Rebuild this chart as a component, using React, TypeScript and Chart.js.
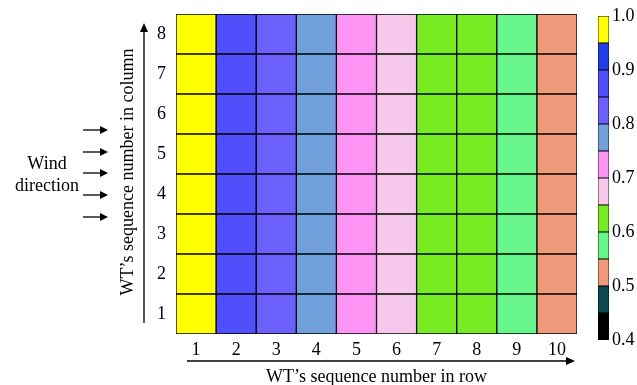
import React, { useEffect, useRef } from "react";
import { Chart, registerables } from "chart.js";

Chart.register(...registerables);

const columnLabels = ["1", "2", "3", "4", "5", "6", "7", "8", "9", "10"];
const rowLabels = ["1", "2", "3", "4", "5", "6", "7", "8"];
// normalized power of each WT, rows 1..8 (bottom to top), columns 1..10
const rowValues: number[][] = [
  [0.98, 0.87, 0.82, 0.78, 0.72, 0.68, 0.62, 0.61, 0.57, 0.52],
  [0.98, 0.87, 0.82, 0.78, 0.72, 0.68, 0.62, 0.61, 0.57, 0.52],
  [0.98, 0.87, 0.82, 0.78, 0.72, 0.68, 0.62, 0.61, 0.57, 0.52],
  [0.98, 0.87, 0.82, 0.78, 0.72, 0.68, 0.62, 0.61, 0.57, 0.52],
  [0.98, 0.87, 0.82, 0.78, 0.72, 0.68, 0.62, 0.61, 0.57, 0.52],
  [0.98, 0.87, 0.82, 0.78, 0.72, 0.68, 0.62, 0.61, 0.57, 0.52],
  [0.98, 0.87, 0.82, 0.78, 0.72, 0.68, 0.62, 0.61, 0.57, 0.52],
  [0.98, 0.87, 0.82, 0.78, 0.72, 0.68, 0.62, 0.61, 0.57, 0.52],
];
const colorBinStarts = [0.4, 0.45, 0.5, 0.55, 0.6, 0.65, 0.7, 0.75, 0.8, 0.85, 0.9, 0.95];
const colorBinColors = [
  "#000000", "#0b4a52", "#ee9a7b", "#66f68a", "#78ec22", "#f8c8ec",
  "#fb94f3", "#72a0dc", "#6b61fa", "#4f4ffb", "#1f3ee6", "#ffff00",
];
const colorbarTicks = [0.4, 0.5, 0.6, 0.7, 0.8, 0.9, 1.0];

const FONT = "'Liberation Serif', 'Times New Roman', serif";
const FS = 18;

function colorFor(v: number): string {
  let idx = 0;
  for (let i = 0; i < colorBinStarts.length; i++) {
    if (v >= colorBinStarts[i] - 1e-9) idx = i;
  }
  return colorBinColors[idx];
}

function drawArrow(ctx: CanvasRenderingContext2D, x1: number, y1: number, x2: number, y2: number, head = 9) {
  const ang = Math.atan2(y2 - y1, x2 - x1);
  ctx.beginPath();
  ctx.moveTo(x1, y1);
  ctx.lineTo(x2 - Math.cos(ang) * head * 0.8, y2 - Math.sin(ang) * head * 0.8);
  ctx.stroke();
  ctx.beginPath();
  ctx.moveTo(x2, y2);
  ctx.lineTo(x2 - head * Math.cos(ang) + 4 * Math.sin(ang), y2 - head * Math.sin(ang) - 4 * Math.cos(ang));
  ctx.lineTo(x2 - head * Math.cos(ang) - 4 * Math.sin(ang), y2 - head * Math.sin(ang) + 4 * Math.cos(ang));
  ctx.closePath();
  ctx.fill();
}

const annotationPlugin = {
  id: "annotations",
  afterDraw(chart: any) {
    const ctx: CanvasRenderingContext2D = chart.ctx;
    const a = chart.chartArea;
    ctx.save();
    ctx.strokeStyle = "#000";
    ctx.fillStyle = "#000";
    ctx.lineWidth = 1.3;
    // x arrow
    const xy = a.bottom + 27;
    drawArrow(ctx, a.left + 11, xy, a.right - 2, xy);
    ctx.font = `${FS}px ${FONT}`;
    ctx.textAlign = "center";
    ctx.textBaseline = "middle";
    ctx.fillText("WT\u2019s sequence number in row", (a.left + a.right) / 2, a.bottom + 43);
    // y arrow
    const yx = a.left - 32;
    drawArrow(ctx, yx, a.bottom - 11, yx, a.top + 9);
    ctx.save();
    ctx.translate(a.left - 48, (a.top + a.bottom) / 2 - 2);
    ctx.rotate(-Math.PI / 2);
    ctx.fillText("WT\u2019s sequence number in column", 0, 0);
    ctx.restore();
    // wind direction
    ctx.fillText("Wind", 47, 164);
    ctx.fillText("direction", 47, 186);
    const ys = [130, 152, 173, 195, 217];
    for (const y of ys) drawArrow(ctx, 83, y, 108, y, 8);
    ctx.restore();
  },
};

export default function App() {
  const mainRef = useRef<HTMLCanvasElement>(null);
  const cbRef = useRef<HTMLCanvasElement>(null);

  useEffect(() => {
    const datasets = rowLabels.map((_, r) => ({
      label: "row " + rowLabels[r],
      data: columnLabels.map(() => [r, r + 1]),
      backgroundColor: rowValues[r].map(colorFor),
      borderColor: "#000",
      borderWidth: 1,
      borderSkipped: false,
      grouped: false,
      barPercentage: 1,
      categoryPercentage: 1,
    }));
    const main = new Chart(mainRef.current!, {
      type: "bar",
      data: { labels: columnLabels, datasets: datasets as any },
      options: {
        animation: false,
        responsive: false,
        maintainAspectRatio: false,
        layout: { padding: { top: 14, right: 60, left: 0, bottom: 0 } },
        plugins: { legend: { display: false }, tooltip: { enabled: false } },
        scales: {
          x: {
            grid: { display: false, drawTicks: false },
            border: { display: false },
            ticks: { color: "#000", font: { family: FONT, size: FS }, padding: 5, maxRotation: 0 },
            afterFit: (s: any) => { s.height = 51; s.paddingLeft = 0; s.paddingRight = 0; },
          },
          y: {
            min: 0,
            max: 8,
            grid: { display: false, drawTicks: false },
            border: { display: false },
            afterBuildTicks: (s: any) => {
              s.ticks = rowLabels.map((_, i) => ({ value: i + 0.5 }));
            },
            ticks: {
              color: "#000",
              font: { family: FONT, size: FS },
              padding: 10,
              callback: (v: any) => rowLabels[Math.round(Number(v) - 0.5)],
            },
            afterFit: (s: any) => { s.width = 176; s.paddingTop = 0; s.paddingBottom = 0; },
          },
        },
      },
      plugins: [annotationPlugin],
    });

    const cbDatasets = colorBinStarts.map((start, i) => ({
      label: "bin" + i,
      data: [[start, start + 0.05]],
      backgroundColor: colorBinColors[i],
      borderColor: "#000",
      borderWidth: 0.75,
      borderSkipped: false,
      grouped: false,
      barPercentage: 1,
      categoryPercentage: 1,
    }));
    const cb = new Chart(cbRef.current!, {
      type: "bar",
      data: { labels: ["cb"], datasets: cbDatasets as any },
      options: {
        animation: false,
        responsive: false,
        maintainAspectRatio: false,
        layout: { padding: { top: 16, left: 13, right: 0, bottom: 45 } },
        plugins: { legend: { display: false }, tooltip: { enabled: false } },
        scales: {
          x: { display: false },
          y: {
            position: "right",
            min: 0.4,
            max: 1.0,
            grid: { display: false, drawTicks: false },
            border: { display: false },
            afterBuildTicks: (s: any) => {
              s.ticks = colorbarTicks.map((v) => ({ value: v }));
            },
            ticks: {
              color: "#000",
              font: { family: FONT, size: FS },
              padding: 3,
              callback: (v: any) => Number(v).toFixed(1),
            },
            afterFit: (s: any) => { s.width = 28; s.paddingTop = 0; s.paddingBottom = 0; },
          },
        },
      },
    });
    return () => {
      main.destroy();
      cb.destroy();
    };
  }, []);

  return (
    <div style={{ position: "absolute", left: 0, top: 0, width: 637, height: 385, background: "#fff" }}>
      <canvas ref={mainRef} width={637} height={385} style={{ position: "absolute", left: 0, top: 0 }} />
      <canvas ref={cbRef} width={52} height={385} style={{ position: "absolute", left: 585, top: 0 }} />
    </div>
  );
}
